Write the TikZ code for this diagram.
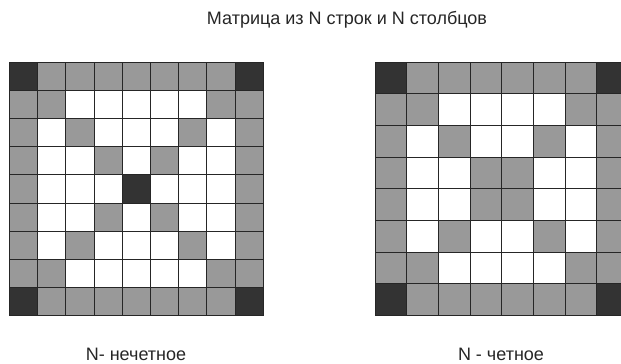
\documentclass[tikz,border=0pt]{standalone}
\usepackage{fontspec}
\setmainfont{Liberation Sans}
\definecolor{cellgray}{HTML}{999999}
\definecolor{celldark}{HTML}{333333}
\tikzset{
  cellbox/.style={draw=black!85, line width=0.9pt},
  lbl/.style={font=\fontsize{18}{21}\selectfont, text=black!85, inner sep=0pt}
}
\begin{document}
\begin{tikzpicture}[x=1pt,y=-1pt]
\useasboundingbox (0,0) rectangle (621,364);
\clip (0,0) rectangle (621,364);
\fill[white] (0,0) rectangle (621,364);
% left grid 9x9
\def\cs{28.2}
\foreach \i in {0,...,8}{
  \foreach \j in {0,...,8}{
    \pgfmathtruncatemacro{\b}{(\i==0)||(\i==8)||(\j==0)||(\j==8)||(\i==\j)||(\i+\j==8)}
    \pgfmathtruncatemacro{\d}{((\i==0)||(\i==8))&&((\j==0)||(\j==8)) || ((\i==4)&&(\j==4))}
    \ifnum\d=1 \def\fc{celldark}\else\ifnum\b=1 \def\fc{cellgray}\else\def\fc{white}\fi\fi
    \filldraw[cellbox, fill=\fc] (9.5+\i*\cs, 62+\j*\cs) rectangle ++(\cs,\cs);
  }
}
% right grid 8x8
\def\cr{31.7}
\foreach \i in {0,...,7}{
  \foreach \j in {0,...,7}{
    \pgfmathtruncatemacro{\b}{(\i==0)||(\i==7)||(\j==0)||(\j==7)||(\i==\j)||(\i+\j==7)}
    \pgfmathtruncatemacro{\d}{((\i==0)||(\i==7))&&((\j==0)||(\j==7))}
    \ifnum\d=1 \def\fc{celldark}\else\ifnum\b=1 \def\fc{cellgray}\else\def\fc{white}\fi\fi
    \filldraw[cellbox, fill=\fc] (375+\i*\cr, 62+\j*\cr) rectangle ++(\cr,\cr);
  }
}
\node[lbl] (title) at (347,20) {Матрица из N строк и N столбцов};
\node[lbl, anchor=base] (odd) at (136,360) {N- нечетное};
\node[lbl, anchor=base] (even) at (501,360) {N - четное};
\end{tikzpicture}
\end{document}
